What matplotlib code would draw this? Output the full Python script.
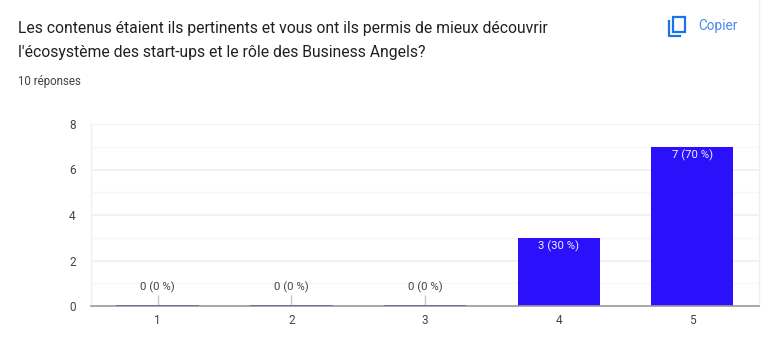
import matplotlib
matplotlib.use("Agg")
import matplotlib.pyplot as plt
from matplotlib.patches import FancyBboxPatch
from matplotlib.lines import Line2D

categories = ["1", "2", "3", "4", "5"]
counts = [0, 0, 0, 3, 7]
labels = ["0 (0 %)", "0 (0 %)", "0 (0 %)", "3 (30 %)", "7 (70 %)"]
y_ticks = [0, 2, 4, 6, 8]
y_minor = [1, 3, 5, 7]
title_lines = ["Les contenus étaient ils pertinents et vous ont ils permis de mieux découvrir",
               "l'écosystème des start-ups et le rôle des Business Angels?"]
subtitle = "10 réponses"
button = "Copier"

W, H = 768, 360
plt.rcParams["font.family"] = ["Roboto", "DejaVu Sans"]
fig = plt.figure(figsize=(W / 100, H / 100), dpi=100, facecolor="white")
ax = fig.add_axes([91 / W, 1 - 306 / H, (759 - 91) / W, (306 - 124) / H])

xs = list(range(len(categories)))
ax.set_xlim(-0.5, 4.5)
ax.set_ylim(0, 8)
ax.set_axisbelow(True)
for y in y_ticks[1:]:
    ax.axhline(y, color="#efefef", lw=1.1, zorder=1)
for y in y_minor:
    ax.axhline(y, color="#f7f7f7", lw=0.9, zorder=1)
ax.bar(xs, counts, width=0.615, color="#2a10fb", zorder=2)

for x, c, lab in zip(xs, counts, labels):
    if c == 0:
        ax.plot([x, x], [0, 0.5], color="#c8c8c8", lw=1, zorder=3, solid_capstyle="butt")
        ax.plot([x - 0.31, x + 0.31], [0.02, 0.02], color="#6f6b94", lw=1.3, zorder=3, solid_capstyle="butt")
        ax.text(x, 0.55, lab, ha="center", va="bottom", fontsize=8.2, color="#444444", zorder=4)
    else:
        ax.text(x, c - 0.12, lab, ha="center", va="top", fontsize=8.2, color="#f2f2ff", zorder=4)

for s in ["top", "right"]:
    ax.spines[s].set_visible(False)
ax.spines["left"].set_color("#efefef")
ax.spines["left"].set_linewidth(1)
ax.spines["bottom"].set_color("#9a9a9a")
ax.spines["bottom"].set_linewidth(1.2)
ax.plot([1, 1], [0, 8], transform=ax.transAxes, color="#efefef", lw=1, clip_on=False, zorder=1)
ax.set_xticks(xs, categories)
ax.set_yticks(y_ticks, [str(v) for v in y_ticks])
ax.tick_params(axis="both", length=0, labelsize=8.5, labelcolor="#444444")
ax.tick_params(axis="x", pad=6)
ax.tick_params(axis="y", pad=11)

def px(x, y):
    return x / W, 1 - y / H

fig.text(*px(18, 28), title_lines[0], fontsize=11.3, color="#202124", va="center", ha="left")
fig.text(*px(18, 53), title_lines[1], fontsize=11.3, color="#202124", va="center", ha="left")
fig.text(*px(18, 81), subtitle, fontsize=8.3, color="#444444", va="center", ha="left")
fig.text(*px(698, 26), button, fontsize=9.8, color="#4a8af0", va="center", ha="left")

# copy icon
blue = "#1a73e8"
fig.add_artist(FancyBboxPatch(px(673, 32), 11.5 / W, 15 / H, boxstyle="square,pad=0",
                              transform=fig.transFigure, fill=False, ec=blue, lw=1.6))
x0, y0 = px(669, 21); x1, y1 = px(669, 35.5); x2, y2 = px(680, 35.5)
fig.add_artist(Line2D([x0, x1, x2], [y0, y1, y2], transform=fig.transFigure, color=blue, lw=1.6))

fig.savefig("out.png", dpi=100)
